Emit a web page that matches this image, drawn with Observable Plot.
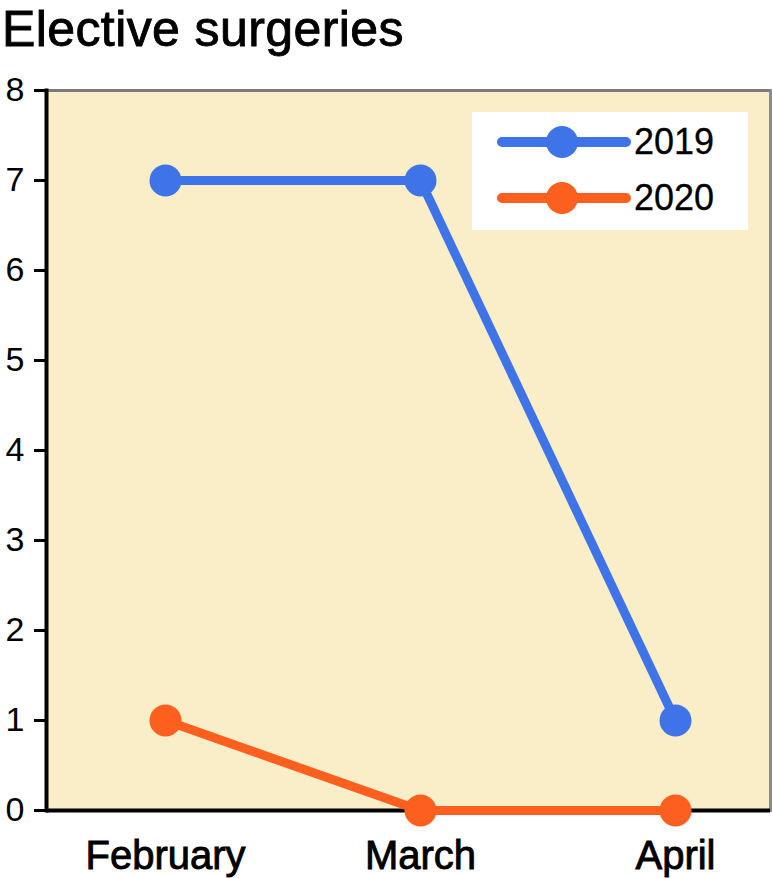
<!DOCTYPE html>
<html>
<head>
<meta charset="utf-8">
<script src="https://cdn.jsdelivr.net/npm/d3@7"></script>
<script src="https://cdn.jsdelivr.net/npm/@observablehq/plot@0.6"></script>
<style>
  body { margin: 0; background: #ffffff; font-family: "Liberation Sans", Arial, sans-serif; }
  #wrap { position: relative; width: 772px; height: 878px; overflow: hidden; }
  #title { height: 60px; font-size: 50px; line-height: 58px; padding-left: 2px; color: #000; letter-spacing: 0.4px; -webkit-text-stroke: 0.9px #000; }
  #legend { position: absolute; left: 472px; top: 112px; width: 276px; height: 118px; background: #ffffff; }
  .row { position: absolute; left: 0; height: 56px; display: flex; align-items: center; }
  .row span { font-size: 36px; margin-left: 0px; color: #000; -webkit-text-stroke: 0.3px #000; }
</style>
</head>
<body>
<div id="wrap">
  <div id="title">Elective surgeries</div>
  <div id="chart"></div>
  <div id="legend"></div>
</div>
<script>
const months = ["February", "March", "April"];
const series = ["2019", "2020"];
const values2019 = [7, 7, 1];
const values2020 = [1, 0, 0];
const colors = ["#3f74e8", "#fd5f1f"];
const yTicks = [0, 1, 2, 3, 4, 5, 6, 7, 8];

const data = [];
months.forEach((m, i) => {
  data.push({month: m, year: series[0], value: values2019[i]});
  data.push({month: m, year: series[1], value: values2020[i]});
});

const chart = Plot.plot({
  width: 772,
  height: 818,
  marginTop: 30,
  marginBottom: 68,
  marginLeft: 46,
  marginRight: 2,
  style: {fontFamily: "Liberation Sans, Arial, sans-serif", background: "transparent", overflow: "visible"},
  x: {type: "point", domain: months, range: [165, 675], padding: 0},
  y: {domain: [0, 8]},
  color: {domain: series, range: colors},
  marks: [
    Plot.frame({fill: "#f9eec8", stroke: null}),
    Plot.frame({anchor: "top", stroke: "#7a7a7a", strokeWidth: 3}),
    Plot.frame({anchor: "right", stroke: "#8a8a8a", strokeWidth: 3}),
    Plot.frame({anchor: "left", stroke: "#000", strokeWidth: 4}),
    Plot.ruleY([0], {stroke: "#000", strokeWidth: 4}),
    Plot.axisY({ticks: yTicks, tickSize: 12, tickPadding: 10, strokeWidth: 3, fontSize: 34, label: null, tickFormat: d => String(d), color: "#000"}),
    Plot.axisX({tickSize: 0, tickPadding: 30, fontSize: 40, label: null, color: "#000", className: "xax"}),
    Plot.line(data, {x: "month", y: "value", z: "year", stroke: "year", strokeWidth: 9, strokeLinecap: "round", strokeLinejoin: "round"}),
    Plot.dot(data, {x: "month", y: "value", fill: "year", r: 16, stroke: null})
  ]
});
document.getElementById("chart").appendChild(chart);
chart.querySelectorAll("g[aria-label='x-axis tick label'] text").forEach(t => {
  t.setAttribute("stroke", "#000");
  t.setAttribute("stroke-width", "0.9");
});

const legend = document.getElementById("legend");
series.forEach((s, i) => {
  const row = document.createElement("div");
  row.className = "row";
  row.style.top = (i * 56 + 2) + "px";
  row.style.left = "22px";
  row.innerHTML = `<svg width="140" height="40"><line x1="8" y1="20" x2="132" y2="20" stroke="${colors[i]}" stroke-width="10" stroke-linecap="round"/><circle cx="68" cy="20" r="16" fill="${colors[i]}"/></svg><span>${s}</span>`;
  legend.appendChild(row);
});
</script>
</body>
</html>
